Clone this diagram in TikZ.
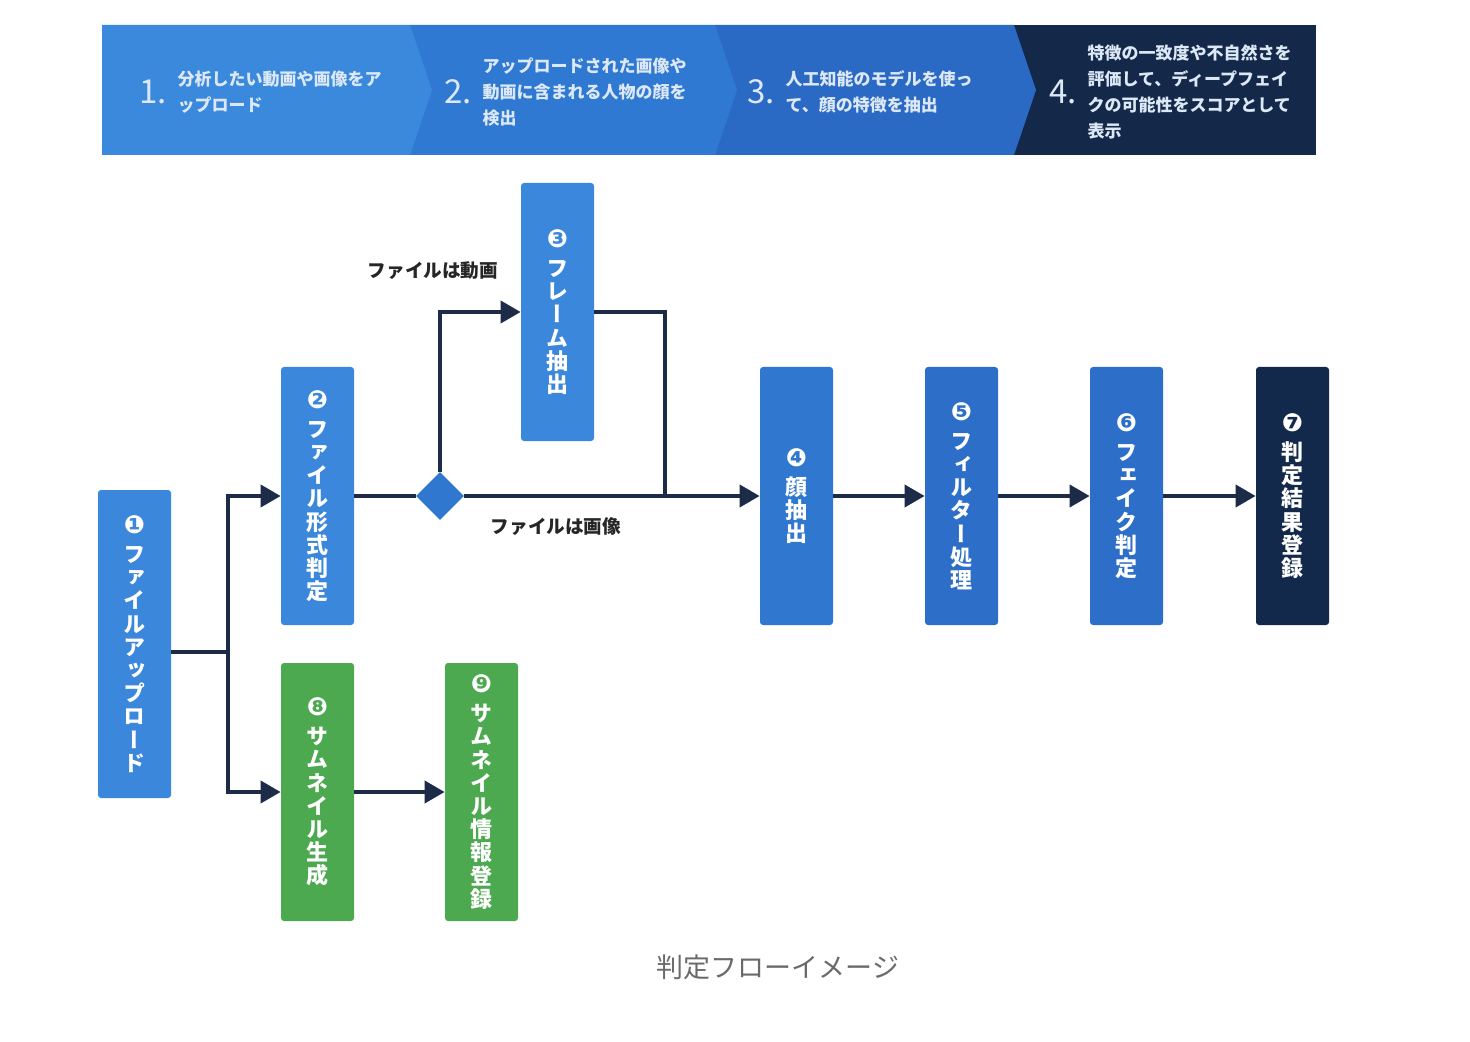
\documentclass[tikz,border=0pt]{standalone}
\usepackage{fontspec}
\usepackage{graphicx}
\usetikzlibrary{positioning, arrows.meta, shapes.geometric}
\setmainfont{Noto Sans CJK JP}
\newfontfamily\tatefont[RawFeature=+vert]{Noto Sans CJK JP}
\newfontfamily\numfont{DejaVu Sans}
\definecolor{segA}{HTML}{3A89DD}
\definecolor{segB}{HTML}{2F79D2}
\definecolor{segC}{HTML}{2B6AC4}
\definecolor{segD}{HTML}{14284A}
\definecolor{bannertext}{HTML}{DCE8F6}
\definecolor{boxA}{HTML}{3A87DB}
\definecolor{boxB}{HTML}{3077D0}
\definecolor{boxC}{HTML}{2D6EC8}
\definecolor{boxD}{HTML}{13294B}
\definecolor{boxG}{HTML}{4CA94F}
\definecolor{linecol}{HTML}{1C2B48}
\definecolor{capgray}{HTML}{6A6A6A}
\newcommand{\cnum}[1]{{\numfont\fontsize{12.5}{12.5}\selectfont #1}}

\tikzset{
  proc/.style={rectangle, rounded corners=1.5pt, minimum width=36.5pt, minimum height=129pt,
    inner sep=0pt, text=white, align=center, font=\tatefont\bfseries\fontsize{11}{11.6}\selectfont},
  ln/.style={draw=linecol, line width=2pt},
  arr/.style={ln, -{Triangle[length=10pt, width=11pt]}},
  bnum/.style={inner sep=0pt, text=bannertext, font=\fontsize{16.5}{16.5}\selectfont},
  btxt/.style={inner sep=0pt, text=bannertext, align=left, font=\bfseries\fontsize{8.5}{13}\selectfont},
  lbl/.style={inner sep=0pt, text=black!85, font=\bfseries\fontsize{9.3}{10}\selectfont}
}

\begin{document}
\begin{tikzpicture}[x=0.5pt, y=-0.5pt]
  \useasboundingbox[fill=white] (0,0) rectangle (1470,1042);

  \fill[segD] (1014,25) rectangle (1316,155);
  \fill[segC] (715,25) -- (1014,25) -- (1036,90) -- (1014,155) -- (715,155) -- cycle;
  \fill[segB] (410,25) -- (715,25) -- (737,90) -- (715,155) -- (410,155) -- cycle;
  \fill[segA] (102,25) -- (410,25) -- (432,90) -- (410,155) -- (102,155) -- cycle;

  \node[bnum, anchor=west] (b1n) at (139,92) {1.};
  \node[btxt, right=5pt of b1n] (b1t) {分析したい動画や画像をア\\ップロード};
  \node[bnum, anchor=west] (b2n) at (444,92) {2.};
  \node[btxt, right=5pt of b2n] (b2t) {アップロードされた画像や\\動画に含まれる人物の顔を\\検出};
  \node[bnum, anchor=west] (b3n) at (747,92) {3.};
  \node[btxt, right=5pt of b3n] (b3t) {人工知能のモデルを使っ\\て、顔の特徴を抽出};
  \node[bnum, anchor=west] (b4n) at (1049,92) {4.};
  \node[btxt, right=5pt of b4n] (b4t) {特徴の一致度や不自然さを\\評価して、ディープフェイ\\クの可能性をスコアとして\\表示};

  \node[proc, fill=boxA, minimum height=154pt] (n1) at (134.5,644)
    {\cnum{❶}\\[3pt]フ\\ァ\\イ\\ル\\ア\\ッ\\プ\\ロ\\ー\\ド};
  \node[proc, fill=boxA] (n2) at (317.5,496)
    {\cnum{❷}\\[3pt]フ\\ァ\\イ\\ル\\形\\式\\判\\定};
  \node[proc, fill=boxA] (n3) at (557.5,312)
    {\cnum{❸}\\[3pt]フ\\レ\\ー\\ム\\抽\\出};
  \node[proc, fill=boxB] (n4) at (796.5,496)
    {\cnum{❹}\\[3pt]顔\\抽\\出};
  \node[proc, fill=boxC] (n5) at (961.5,496)
    {\cnum{❺}\\[3pt]フ\\ィ\\ル\\タ\\ー\\処\\理};
  \node[proc, fill=boxC] (n6) at (1126.5,496)
    {\cnum{❻}\\[3pt]フ\\ェ\\イ\\ク\\判\\定};
  \node[proc, fill=boxD] (n7) at (1292.5,496)
    {\cnum{❼}\\[3pt]判\\定\\結\\果\\登\\録};
  \node[proc, fill=boxG] (n8) at (317.5,792)
    {\cnum{❽}\\[3pt]サ\\ム\\ネ\\イ\\ル\\生\\成};
  \node[proc, fill=boxG] (n9) at (481.5,792)
    {\cnum{❾}\\[3pt]サ\\ム\\ネ\\イ\\ル\\情\\報\\登\\録};

  \node[diamond, aspect=1, fill=boxB, minimum size=24pt, inner sep=0pt] (dec) at (440,496) {};

  \coordinate (sp) at (228,652);
  \coordinate (jn) at (665,496);
  \draw[ln] (n1.east |- sp) -- (sp);
  \draw[arr] (sp) |- (n2.west);
  \draw[arr] (sp) |- (n8.west);
  \draw[ln] (n2.east) -- (dec.west);
  \draw[arr] (dec.north) |- (n3.west);
  \draw[arr] (dec.east) -- (n4.west);
  \draw[ln] (n3.east) -| (jn);
  \draw[arr] (n4) -- (n5);
  \draw[arr] (n5) -- (n6);
  \draw[arr] (n6) -- (n7);
  \draw[arr] (n8) -- (n9);

  \node[lbl] (lv) at (433,271) {ファイルは動画};
  \node[lbl] (li) at (556,527) {ファイルは画像};

  \node[text=capgray, font=\fontsize{13.5}{14}\selectfont] (cap) at (778,967) {判定フローイメージ};
\end{tikzpicture}
\end{document}
